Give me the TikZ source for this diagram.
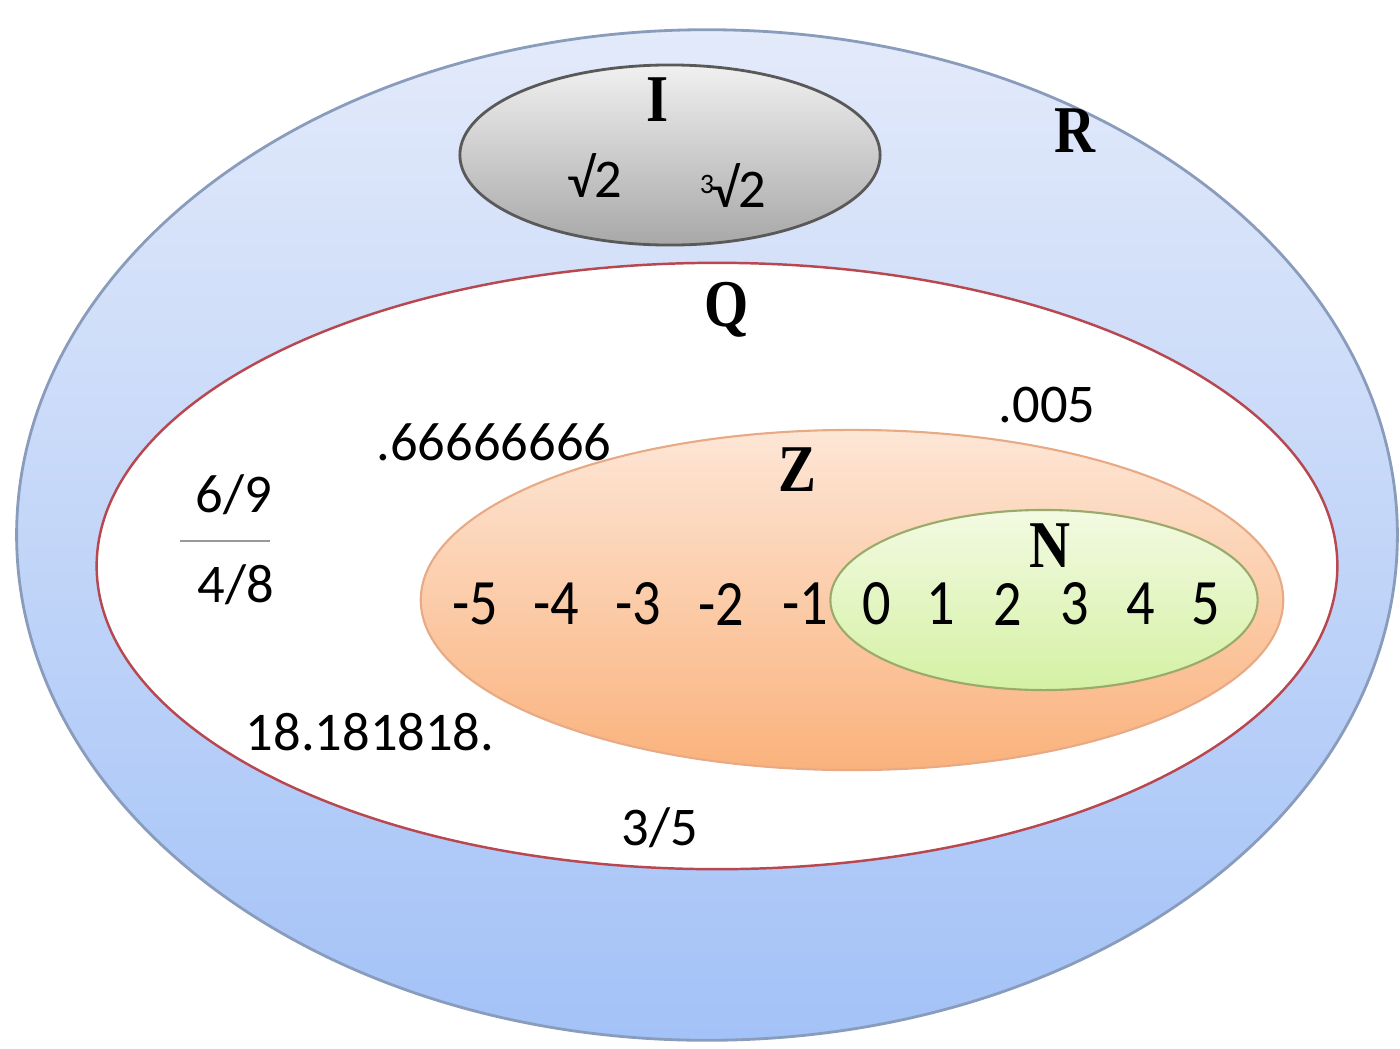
\documentclass[tikz,border=0pt]{standalone}
\usepackage{fontspec}
\setmainfont{Carlito}
\newfontfamily\lblfont{Liberation Serif}
\usetikzlibrary{shapes.geometric}
\definecolor{Rtop}{HTML}{E3EAFA}
\definecolor{Rbot}{HTML}{A3C2F7}
\definecolor{Rline}{HTML}{8A9CBC}
\definecolor{Itop}{HTML}{F0F0F0}
\definecolor{Ibot}{HTML}{A8A8A8}
\definecolor{Qline}{HTML}{B8474F}
\definecolor{Ztop}{HTML}{FDE6D6}
\definecolor{Zbot}{HTML}{FAB27C}
\definecolor{Zline}{HTML}{E8AA85}
\definecolor{Ntop}{HTML}{F3FAE2}
\definecolor{Nbot}{HTML}{D4F1A4}
\definecolor{Nline}{HTML}{9AAA6A}
\tikzset{
  setR/.style={ellipse, inner sep=0pt, draw=Rline, line width=0.8pt, top color=Rtop, bottom color=Rbot},
  setI/.style={ellipse, inner sep=0pt, draw=black!65, line width=0.8pt, top color=Itop, bottom color=Ibot},
  setQ/.style={ellipse, inner sep=0pt, draw=Qline, line width=0.7pt, fill=white},
  setZ/.style={ellipse, inner sep=0pt, draw=Zline, line width=0.6pt, top color=Ztop, bottom color=Zbot},
  setN/.style={ellipse, inner sep=0pt, draw=Nline, line width=0.6pt, top color=Ntop, bottom color=Nbot},
  lbl/.style={font=\lblfont\bfseries\fontsize{19}{22}\selectfont, xscale=0.85, inner sep=0pt},
  num/.style={font=\fontsize{15.5}{18}\selectfont, inner sep=0pt},
  znum/.style={font=\fontsize{16}{19}\selectfont, yscale=1.15, inner sep=0pt}
}
\begin{document}
\begin{tikzpicture}[x=0.01cm,y=-0.01cm]
\useasboundingbox (0,0) rectangle (1400,1048);
\node[setR, minimum width=13.8cm, minimum height=10.1cm] (R) at (707,535) {};
\node[setI, minimum width=4.2cm, minimum height=1.8cm] (I) at (670,155) {};
\node[setQ, minimum width=12.4cm, minimum height=6.06cm] (Q) at (717,566) {};
\node[setZ, minimum width=8.62cm, minimum height=3.4cm] (Z) at (852,600) {};
\node[setN, minimum width=4.27cm, minimum height=1.8cm] (N) at (1044,600) {};

\node[lbl] (lR) at (1075,131) {R};
\node[lbl] (lI) at (658,100) {I};
\node[lbl] (lQ) at (727,310) {Q};
\node[lbl] (lZ) at (797,470) {Z};
\node[lbl] (lN) at (1050,546) {N};

\node[num] (s2) at (595,176) {√2};
\node[num] (c2) at (733,186) {\raisebox{0.55ex}{\fontsize{8}{9}\selectfont 3}\kern-0.05em√2};

\node[num] (d005) at (1047,405) {.005};
\node[num] (d666) at (494,442) {.66666666};
\node[num] (f69) at (234,495) {6/9};
\node[num] (f48) at (236,585) {4/8};
\coordinate (barL) at (180,541);
\coordinate (barR) at (270,541);
\draw[black!40, line width=0.8pt] (barL) -- (barR);
\node[num] (d18) at (370,732) {18.181818.};
\node[num] (f35) at (660,828) {3/5};

\node[znum] (m5) at (475,604) {-5};
\node[znum] (m4) at (556,604) {-4};
\node[znum] (m3) at (638,604) {-3};
\node[znum] (m2) at (721,604) {-2};
\node[znum] (m1) at (805,604) {-1};
\node[znum] (p0) at (877,604) {0};
\node[znum] (p1) at (941,604) {1};
\node[znum] (p2) at (1008,604) {2};
\node[znum] (p3) at (1075,604) {3};
\node[znum] (p4) at (1141,604) {4};
\node[znum] (p5) at (1206,604) {5};
\end{tikzpicture}
\end{document}
